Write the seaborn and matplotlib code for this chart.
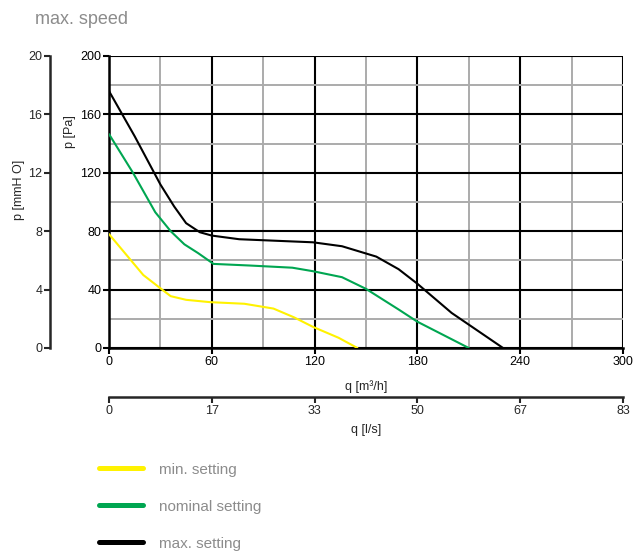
import matplotlib
matplotlib.use("Agg")
import matplotlib.pyplot as plt
from matplotlib.ticker import MultipleLocator
from matplotlib.lines import Line2D
import seaborn as sns
import pandas as pd

# ─── Data ───────────────────────────────────────────────────────────────────
q_min = [0, 10, 20, 31, 36, 45, 59, 79, 96, 108, 119, 134, 145]
p_min = [78, 64, 50, 40, 35.5, 33, 31.4, 30.3, 27, 21, 14.5, 7, 0]

q_nom = [0, 14, 27, 36, 44, 52, 61, 82, 107, 119, 136, 150, 169, 180, 195, 210]
p_nom = [146.5, 120, 93, 80, 71, 65, 57.6, 56.5, 55, 52.6, 48.5, 40.5, 26.4, 18, 9, 0]

q_max = [0, 15, 30, 38, 45, 53, 60, 76, 119, 136, 156, 169, 180, 200, 230]
p_max = [176, 145, 112, 97, 85.5, 79.3, 77, 74.5, 72.4, 69.7, 62.6, 54, 44, 24, 0]

series = ["min. setting", "nominal setting", "max. setting"]
colors = ["#FFF200", "#00A651", "#000000"]

x_ticks = [0, 60, 120, 180, 240, 300]
ls_labels = ["0", "17", "33", "50", "67", "83"]

df = pd.concat([
    pd.DataFrame({"q": q_min, "p": p_min, "setting": series[0]}),
    pd.DataFrame({"q": q_nom, "p": p_nom, "setting": series[1]}),
    pd.DataFrame({"q": q_max, "p": p_max, "setting": series[2]}),
])

sns.set_style("white")
plt.rcParams["font.family"] = ["Liberation Sans", "DejaVu Sans"]

W, H = 638, 551
fig = plt.figure(figsize=(W / 100, H / 100), dpi=100)
ax = fig.add_axes([109 / W, 1 - 348 / H, 514 / W, 292 / H])

# grid first so curves sit on top
ax.set_xlim(0, 300)
ax.set_ylim(0, 200)
ax.xaxis.set_major_locator(MultipleLocator(60))
ax.xaxis.set_minor_locator(MultipleLocator(30))
ax.yaxis.set_major_locator(MultipleLocator(40))
ax.yaxis.set_minor_locator(MultipleLocator(20))
ax.grid(which="minor", color="#ABABAB", lw=1.4, zorder=0)
ax.grid(which="major", color="#000000", lw=1.5, zorder=0.5)
ax.set_axisbelow(True)

sns.lineplot(data=df, x="q", y="p", hue="setting", palette=colors,
             hue_order=series, sort=False, lw=1.5, legend=False, ax=ax, zorder=3)

for s in ["top", "right"]:
    ax.spines[s].set_visible(False)
for s in ["left", "bottom"]:
    ax.spines[s].set_color("black")
    ax.spines[s].set_linewidth(1.8)
ax.tick_params(which="major", direction="out", length=4, width=1.5,
               colors="black", labelsize=9, pad=1.5, left=True, bottom=True)
ax.tick_params(which="minor", length=0)
ax.set_xlabel("q [m³/h]", fontsize=9, labelpad=9)
ax.set_ylabel("")
fig.text(70 / W, 1 - 132 / H, "p [Pa]", rotation=90, fontsize=9,
         ha="center", va="center")

# second pressure axis (mmH2O)
ax_mm = ax.secondary_yaxis(-59 / 514, functions=(lambda x: x / 10, lambda x: x * 10))
ax_mm.set_yticks([0, 4, 8, 12, 16, 20])
ax_mm.spines["left"].set_linewidth(1.8)
ax_mm.tick_params(direction="out", length=4, width=1.5, labelsize=9, pad=1.5)
fig.text(19 / W, 1 - 190 / H, "p [mmH O]", rotation=90, fontsize=9,
         ha="center", va="center")

# second flow axis (l/s)
ax_ls = ax.secondary_xaxis(-49 / 292, functions=(lambda x: x / 3.6, lambda x: x * 3.6))
ax_ls.set_xticks([t / 3.6 for t in x_ticks])
ax_ls.set_xticklabels(ls_labels)
ax_ls.spines["bottom"].set_linewidth(1.8)
ax_ls.tick_params(direction="out", length=4, width=1.5, labelsize=9, pad=1.5)
ax_ls.set_xlabel("q [l/s]", fontsize=9, labelpad=5)

fig.text(35 / W, 1 - 20 / H, "max. speed", fontsize=13, color="#8C8C8C",
         ha="left", va="center")

handles = [Line2D([0], [0], color=c, lw=3.6) for c in colors]
fig.legend(handles, series, loc="upper left", bbox_to_anchor=(85 / W, 1 - 449 / H),
           frameon=False, fontsize=11, labelcolor="#8C8C8C", handlelength=2.9,
           handletextpad=1.05, labelspacing=1.5)

fig.savefig("out.png", dpi=100)
